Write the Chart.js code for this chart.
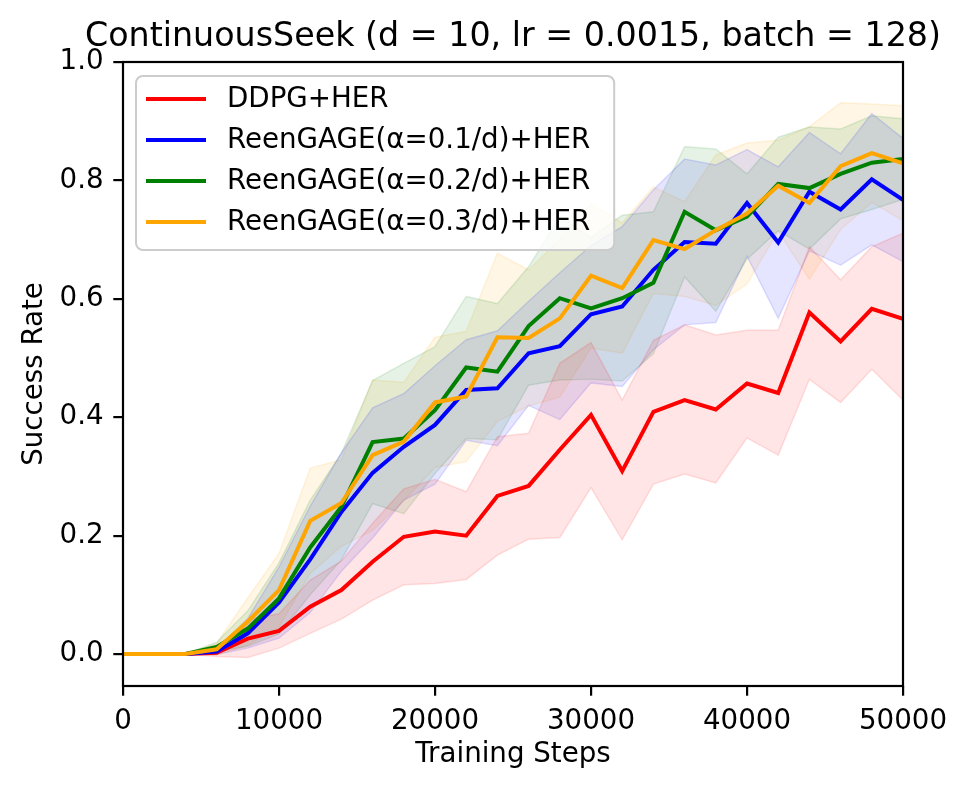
<!DOCTYPE html>
<html>
<head>
<meta charset="utf-8">
<script src="https://cdn.jsdelivr.net/npm/chart.js@4.4.1/dist/chart.umd.min.js"></script>
<style>
  html, body { margin: 0; padding: 0; background: #fff; }
  #wrap { width: 968px; height: 789px; }
</style>
</head>
<body>
<div id="wrap"><canvas id="myChart"></canvas></div>
<script>
const steps = [0, 2000, 4000, 6000, 8000, 10000, 12000, 14000, 16000, 18000, 20000, 22000, 24000,
    26000, 28000, 30000, 32000, 34000, 36000, 38000, 40000, 42000, 44000, 46000, 48000, 50000];
const xTicks = [0, 10000, 20000, 30000, 40000, 50000];
const yTicks = [0, 0.2, 0.4, 0.6, 0.8, 1.0];

const chartTitle = 'ContinuousSeek (d = 10, lr = 0.0015, batch = 128)';
const labels = ['DDPG+HER', 'ReenGAGE(α=0.1/d)+HER', 'ReenGAGE(α=0.2/d)+HER', 'ReenGAGE(α=0.3/d)+HER'];

const ddpg = [0, 0, 0, 0.002, 0.026, 0.039, 0.080, 0.108, 0.156, 0.198, 0.207, 0.200, 0.267,
    0.284, 0.345, 0.404, 0.309, 0.409, 0.429, 0.413, 0.457, 0.441, 0.577, 0.528, 0.583, 0.566];
const ddpgLo = [0, 0, 0, -0.004, -0.006, 0.010, 0.035, 0.059, 0.091, 0.117, 0.119, 0.126, 0.167,
    0.194, 0.197, 0.281, 0.193, 0.287, 0.304, 0.289, 0.365, 0.336, 0.464, 0.425, 0.481, 0.429];
const ddpgHi = [0, 0, 0, 0.008, 0.058, 0.068, 0.125, 0.157, 0.221, 0.279, 0.295, 0.274, 0.367,
    0.373, 0.491, 0.526, 0.429, 0.530, 0.556, 0.539, 0.547, 0.547, 0.688, 0.632, 0.688, 0.711];

const reen1 = [0, 0, 0, 0.004, 0.035, 0.087, 0.160, 0.240, 0.306, 0.350, 0.387, 0.446, 0.449,
    0.508, 0.520, 0.574, 0.587, 0.649, 0.696, 0.693, 0.762, 0.695, 0.781, 0.751, 0.802, 0.767];
const reen1Lo = [0, 0, 0, -0.001, 0.010, 0.027, 0.070, 0.140, 0.196, 0.260, 0.287, 0.361, 0.352,
    0.420, 0.396, 0.458, 0.452, 0.514, 0.556, 0.560, 0.672, 0.567, 0.681, 0.657, 0.691, 0.663];
const reen1Hi = [0, 0, 0, 0.009, 0.060, 0.147, 0.250, 0.340, 0.416, 0.440, 0.487, 0.531, 0.546,
    0.596, 0.644, 0.690, 0.722, 0.784, 0.836, 0.826, 0.852, 0.823, 0.881, 0.845, 0.913, 0.871];

const reen2 = [0, 0, 0, 0.012, 0.043, 0.094, 0.180, 0.249, 0.358, 0.364, 0.412, 0.484, 0.477,
    0.554, 0.601, 0.584, 0.601, 0.627, 0.747, 0.716, 0.739, 0.794, 0.787, 0.811, 0.830, 0.836];
const reen2Lo = [0, 0, 0, 0.004, 0.013, 0.034, 0.100, 0.159, 0.254, 0.237, 0.305, 0.364, 0.362,
    0.454, 0.463, 0.464, 0.461, 0.507, 0.637, 0.579, 0.667, 0.715, 0.684, 0.735, 0.751, 0.768];
const reen2Hi = [0, 0, 0, 0.020, 0.073, 0.154, 0.260, 0.339, 0.462, 0.491, 0.519, 0.604, 0.592,
    0.654, 0.739, 0.704, 0.741, 0.747, 0.857, 0.853, 0.811, 0.873, 0.890, 0.887, 0.909, 0.904];

const reen3 = [0, 0, 0, 0.008, 0.055, 0.108, 0.225, 0.255, 0.336, 0.359, 0.425, 0.435, 0.535,
    0.534, 0.567, 0.639, 0.618, 0.699, 0.684, 0.716, 0.744, 0.791, 0.762, 0.824, 0.846, 0.829];
const reen3Lo = [0, 0, 0, -0.002, 0.015, 0.046, 0.136, 0.182, 0.209, 0.259, 0.315, 0.325, 0.393,
    0.419, 0.434, 0.517, 0.508, 0.609, 0.604, 0.589, 0.625, 0.714, 0.633, 0.717, 0.763, 0.732];
const reen3Hi = [0, 0, 0, 0.018, 0.095, 0.170, 0.314, 0.328, 0.463, 0.459, 0.535, 0.545, 0.677,
    0.649, 0.700, 0.761, 0.728, 0.789, 0.764, 0.843, 0.863, 0.868, 0.891, 0.931, 0.929, 0.926];

const series = [
    { mean: ddpg, lo: ddpgLo, hi: ddpgHi, rgb: '255, 0, 0' },
    { mean: reen1, lo: reen1Lo, hi: reen1Hi, rgb: '0, 0, 255' },
    { mean: reen2, lo: reen2Lo, hi: reen2Hi, rgb: '0, 128, 0' },
    { mean: reen3, lo: reen3Lo, hi: reen3Hi, rgb: '255, 165, 0' }
];

function toPoints(values) {
    return values.map(function (v, i) {
        return { x: steps[i], y: v };
    });
}

const datasets = [];
series.forEach(function (s, k) {
    // shaded band: upper edge fills down to the lower edge dataset right after it
    datasets.push({
        data: toPoints(s.hi),
        borderColor: 'rgba(' + s.rgb + ', 0.12)',
        backgroundColor: 'rgba(' + s.rgb + ', 0.1)',
        borderWidth: 1.5,
        pointRadius: 0,
        fill: '+1',
        order: 100 + k
    });
    datasets.push({
        data: toPoints(s.lo),
        borderColor: 'rgba(' + s.rgb + ', 0.12)',
        borderWidth: 1.5,
        pointRadius: 0,
        fill: false,
        order: 100 + k
    });
});
series.forEach(function (s, k) {
    datasets.push({
        label: labels[k],
        data: toPoints(s.mean),
        borderColor: 'rgb(' + s.rgb + ')',
        borderWidth: 4,
        pointRadius: 0,
        fill: false,
        order: 10 - k
    });
});

// axes frame, title (centred over the plot like matplotlib) and the boxed legend
const frameAndLegend = {
    id: 'frameAndLegend',
    afterDatasetsDraw: function (chart) {
        const ctx = chart.ctx;
        const a = chart.chartArea;
        ctx.save();
        ctx.strokeStyle = '#000';
        ctx.lineWidth = 2.2;
        ctx.strokeRect(a.left, a.top, a.right - a.left, a.bottom - a.top);

        ctx.fillStyle = '#000';
        ctx.font = '33.3px "DejaVu Sans"';
        ctx.textAlign = 'center';
        ctx.textBaseline = 'alphabetic';
        ctx.fillText(chartTitle, (a.left + a.right) / 2, a.top - 16);

        ctx.font = '27.7px "DejaVu Sans"';
        let maxW = 0;
        labels.forEach(function (l) {
            maxW = Math.max(maxW, ctx.measureText(l).width);
        });
        const bx = a.left + 13;
        const by = a.top + 14;
        const textX = bx + 91;
        const bw = textX + maxW + 24 - bx;
        const bh = 174;
        ctx.beginPath();
        ctx.roundRect(bx, by, bw, bh, 7);
        ctx.fillStyle = 'rgba(255, 255, 255, 0.8)';
        ctx.fill();
        ctx.strokeStyle = '#cccccc';
        ctx.lineWidth = 2;
        ctx.stroke();

        ctx.textBaseline = 'middle';
        ctx.textAlign = 'left';
        series.forEach(function (s, k) {
            const y = by + 23 + k * 41;
            ctx.beginPath();
            ctx.moveTo(bx + 10, y);
            ctx.lineTo(bx + 70, y);
            ctx.strokeStyle = 'rgb(' + s.rgb + ')';
            ctx.lineWidth = 4;
            ctx.stroke();
            ctx.fillStyle = '#000';
            ctx.fillText(labels[k], textX, y + 1);
        });
        ctx.restore();
    }
};

document.addEventListener('DOMContentLoaded', function () {
    Chart.defaults.font.family = '"DejaVu Sans"';
    Chart.defaults.font.size = 27.7;
    Chart.defaults.color = '#000';

    const ctx = document.getElementById('myChart').getContext('2d');
    const myChart = new Chart(ctx, {
        type: 'line',
        data: { datasets: datasets },
        plugins: [frameAndLegend],
        options: {
            responsive: true,
            maintainAspectRatio: false,
            animation: false,
            layout: { padding: { left: 0, right: 65, top: 62, bottom: 0 } },
            scales: {
                x: {
                    type: 'linear',
                    min: 0,
                    max: 50000,
                    afterBuildTicks: function (scale) {
                        scale.ticks = xTicks.map(function (v) { return { value: v }; });
                    },
                    afterFit: function (scale) { scale.height = 103; },
                    ticks: {
                        maxRotation: 0,
                        autoSkip: false,
                        padding: 9.7,
                        callback: function (v) { return String(v); }
                    },
                    grid: { drawOnChartArea: false, color: '#000', lineWidth: 2.2, tickLength: 9.7 },
                    border: { display: false },
                    title: { display: true, text: 'Training Steps', padding: { top: 0, bottom: 18 } }
                },
                y: {
                    min: -0.054,
                    max: 1.0,
                    afterBuildTicks: function (scale) {
                        scale.ticks = yTicks.map(function (v) { return { value: v }; });
                    },
                    afterFit: function (scale) { scale.width = 123; },
                    ticks: {
                        padding: 9.7,
                        callback: function (v) { return v.toFixed(1); }
                    },
                    grid: { drawOnChartArea: false, color: '#000', lineWidth: 2.2, tickLength: 9.7 },
                    border: { display: false },
                    title: { display: true, text: 'Success Rate', padding: { top: 18, bottom: 0 } }
                }
            },
            plugins: {
                legend: { display: false },
                tooltip: { enabled: false },
                title: { display: false }
            }
        }
    });
});
</script>
</body>
</html>
